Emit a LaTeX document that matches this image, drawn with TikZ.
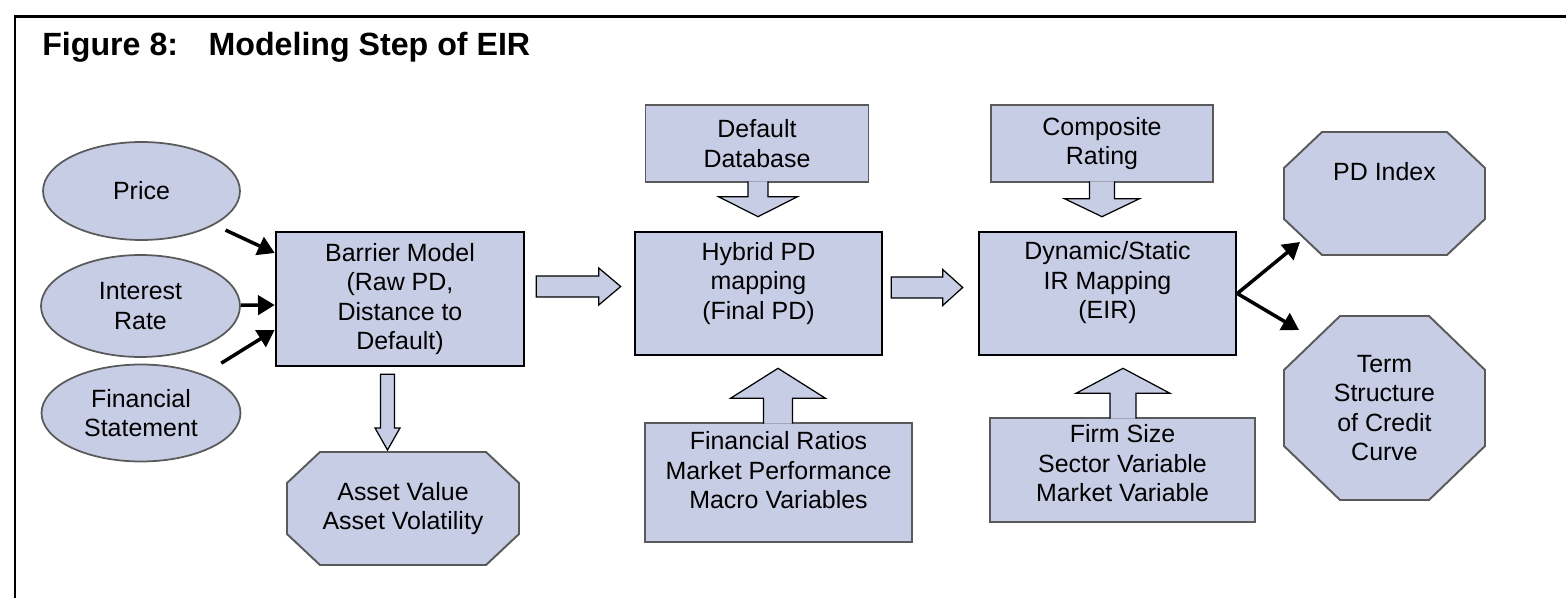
\documentclass[tikz,border=0pt]{standalone}
\usepackage{fontspec}
\setmainfont{Liberation Sans}
\usetikzlibrary{shapes, calc, arrows.meta}
\definecolor{boxfill}{RGB}{200,205,230}
\definecolor{boxline}{RGB}{90,90,90}
\tikzset{src/.style={draw=boxline,ellipse,line width=1pt,fill=boxfill,align=center,inner sep=2pt},
	mainbox/.style={draw=black,line width=1.5pt,fill=boxfill,align=center},
	inbox/.style={draw=boxline,line width=1.1pt,fill=boxfill,align=center},
	outline/.style={draw=boxline,line width=1.1pt,fill=boxfill,line join=miter},
	lbl/.style={align=center},
	flow/.style={-{Triangle[length=9.5pt,width=11pt]},line width=2pt},
	fatline/.style={draw=black,line width=0.7pt,line join=miter}}
% fat block arrow: [path end], from, to, shaft half width, head half width, head length
\newcommand{\fatarrow}[6][]{%
	\coordinate (fa-base) at ($(#3)!#6!(#2)$);
	\fill[boxfill] ($(#2)!#4!90:(#3)$) -- ($(fa-base)!#4!-90:(#2)$) -- ($(fa-base)!#5!-90:(#2)$) -- (#3)
		-- ($(fa-base)!#5!90:(#2)$) -- ($(fa-base)!#4!90:(#2)$) -- ($(#2)!#4!-90:(#3)$) -- cycle;
	\draw[fatline] ($(#2)!#4!90:(#3)$) -- ($(fa-base)!#4!-90:(#2)$) -- ($(fa-base)!#5!-90:(#2)$) -- (#3)
		-- ($(fa-base)!#5!90:(#2)$) -- ($(fa-base)!#4!90:(#2)$) -- ($(#2)!#4!-90:(#3)$) #1;}
% octagon with its text node: [text options], name, centre, half width, half height, x cut, y cut, text
\newcommand{\octanode}[8][]{%
	\filldraw[outline] ($(#3)+(-#4+#6,-#5)$) -- ($(#3)+(#4-#6,-#5)$) -- ($(#3)+(#4,-#5+#7)$) -- ($(#3)+(#4,#5-#7)$)
		-- ($(#3)+(#4-#6,#5)$) -- ($(#3)+(-#4+#6,#5)$) -- ($(#3)+(-#4,#5-#7)$) -- ($(#3)+(-#4,-#5+#7)$) -- cycle;
	\node[lbl,#1] (#2) at (#3) {#8};}

\begin{document}
\begin{tikzpicture}[x=0.02cm,y=-0.02cm,font=\fontsize{14.2}{16.8}\selectfont]
		\useasboundingbox (0,0) rectangle (1566,598);
		% Frame and title
		\draw[line width=1.7pt] (15,598) -- (15,16.5) -- (1566,16.5);
		\node[anchor=base west,inner sep=0pt,font=\fontsize{18.3}{22}\selectfont\bfseries] (title) at (42,56) {Figure 8:\hspace{0.95em}Modeling Step of EIR};
		% Inputs
		\node[src, minimum width=3.94cm, minimum height=1.96cm] (price) at (141.5,191) {Price};
		\node[src, minimum width=3.98cm, minimum height=2.04cm] (rate) at (140.5,306) {Interest\\Rate};
		\node[src, minimum width=3.98cm, minimum height=1.94cm] (stmt) at (141,413) {Financial\\Statement};
		% Modeling steps
		\node[mainbox, minimum width=4.96cm, minimum height=2.68cm] (barrier) at (400,299) {Barrier Model\\(Raw PD,\\Distance to\\Default)};
		\node[mainbox, minimum width=4.94cm, minimum height=2.46cm, label={[lbl,yshift=0.2cm]center:{Hybrid PD\\mapping\\(Final PD)}}] (hybrid) at (758.5,293.5) {};
		\node[mainbox, minimum width=5.14cm, minimum height=2.46cm, label={[lbl,yshift=0.21cm]center:{Dynamic/Static\\IR Mapping\\(EIR)}}] (dynamic) at (1107.5,293.5) {};
		% Extra inputs
		\node[inbox, minimum width=4.46cm, minimum height=1.54cm] (database) at (757,143.5) {Default\\Database};
		\node[inbox, minimum width=4.44cm, minimum height=1.54cm] (composite) at (1102,143.5) {Composite\\Rating};
		\node[inbox, minimum width=5.34cm, minimum height=2.38cm, label={[lbl,yshift=0.24cm]center:{Financial Ratios\\Market Performance\\Macro Variables}}] (ratios) at (778.5,482.5) {};
		\node[inbox, minimum width=5.3cm, minimum height=2.08cm, label={[lbl,yshift=0.13cm]center:{Firm Size\\Sector Variable\\Market Variable}}] (firm) at (1122.5,470) {};
		% Outputs
		\octanode{asset}{403,508.5}{116}{56.5}{33}{31}{Asset Value\\Asset Volatility}
		\octanode[yshift=0.43cm]{pdindex}{1384.5,193.5}{100.5}{61.5}{38}{36}{PD Index}
		\octanode{term}{1384.5,408}{100.5}{92}{56}{54}{Term\\Structure\\of Credit\\Curve}
		% Draw the input arrows
		\draw[flow, shorten <=7pt] (price) -- ($(barrier.west)+(0,-46)$);
		\draw[flow] (rate) -- ($(barrier.west)+(0,6)$);
		\draw[flow, shorten <=12pt] (stmt) -- ($(barrier.west)+(0,31)$);
		\draw[flow] (dynamic.east) -- ($(pdindex.center)+(-84.5,70)$);
		\draw[flow] (dynamic.east) -- ($(term.center)+(-85.5,-78)$);
		% Draw the block arrows
		\coordinate (b1) at ($(barrier.east)+(11,-12.5)$);
		\coordinate (b2) at ($(hybrid.west)+(-13,-7)$);
		\fatarrow[-- cycle]{b1}{b2}{0.21cm}{0.37cm}{0.44cm}
		\coordinate (b3) at ($(hybrid.east)+(8,-6)$);
		\coordinate (b4) at ($(dynamic.west)+(-15,-6)$);
		\fatarrow[-- cycle]{b3}{b4}{0.21cm}{0.36cm}{0.4cm}
		\coordinate (b5) at ($(barrier.south)+(-12.5,7)$);
		\coordinate (b6) at ($(asset.center)+(-15.5,-58.5)$);
		\fatarrow[-- cycle]{b5}{b6}{0.14cm}{0.25cm}{0.44cm}
		\coordinate (d1) at ($(database.south)+(1,-1.5)$);
		\coordinate (d2) at ($(hybrid.north)+(-0.5,-14)$);
		\fatarrow{d1}{d2}{0.2cm}{0.79cm}{0.4cm}
		\coordinate (c1) at ($(composite.south)+(0,-1.5)$);
		\coordinate (c2) at ($(dynamic.north)+(-5.5,-14)$);
		\fatarrow{c1}{c2}{0.25cm}{0.75cm}{0.36cm}
		\coordinate (r1) at ($(ratios.north)+(-0.5,1.5)$);
		\coordinate (r2) at ($(hybrid.south)+(19.5,12)$);
		\fatarrow{r1}{r2}{0.29cm}{0.95cm}{0.6cm}
		\coordinate (f1) at ($(firm.north)+(0.5,1.5)$);
		\coordinate (f2) at ($(dynamic.south)+(15.5,12)$);
		\fatarrow{f1}{f2}{0.26cm}{0.94cm}{0.5cm}
	\end{tikzpicture}
\end{document}
